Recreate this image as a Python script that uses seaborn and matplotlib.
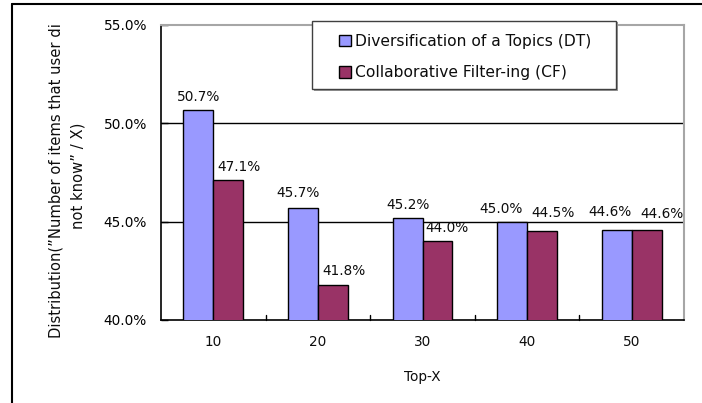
import matplotlib
matplotlib.use("Agg")
import matplotlib.pyplot as plt
from matplotlib.lines import Line2D
from matplotlib.patches import Rectangle
from matplotlib.transforms import Bbox, TransformedBbox
import seaborn as sns
import pandas as pd

# Top-X cut-offs and the share of unknown items for each method (percent)
top_x = ["10", "20", "30", "40", "50"]
methods = ["Diversification of a Topics (DT)", "Collaborative Filter-ing (CF)"]
dt_values = [50.7, 45.7, 45.2, 45.0, 44.6]
cf_values = [47.1, 41.8, 44.0, 44.5, 44.6]
y_ticks = [40.0, 45.0, 50.0, 55.0]

# Nudges (pixels) for the value labels so neighbours don't collide
dt_label_shift = [(0, 12.6), (-5, 15), (0, 13), (-11, 13), (-7, 17.5)]
cf_label_shift = [(11, 13.3), (11, 14), (10, 13), (11, 18), (15, 15.5)]

df = pd.DataFrame({
    "Top-X": top_x * 2,
    "value": dt_values + cf_values,
    "method": [methods[0]] * len(top_x) + [methods[1]] * len(top_x),
})

sns.set_theme(style="white")
plt.rcParams["font.family"] = ["DejaVu Sans"]

W, H = 702, 403
TXT = "#0d0d0d"
fig = plt.figure(figsize=(W / 100, H / 100), dpi=100)
ax = fig.add_axes([161 / W, 1 - 320 / H, (684 - 161) / W, (320 - 25) / H])


def px(x, y):
    """Figure-fraction coordinates from pixel position (origin top-left)."""
    return x / W, 1 - y / H


sns.barplot(
    data=df, x="Top-X", y="value", hue="method", order=top_x, hue_order=methods,
    palette=["#9999FF", "#993366"], edgecolor="black", linewidth=1.0,
    width=0.571, gap=0, saturation=1, ax=ax, zorder=3,
)
handles, labels = ax.get_legend_handles_labels()
if ax.get_legend() is not None:
    ax.get_legend().remove()

ax.set_ylim(40, 55)
ax.set_yticks(y_ticks)
ax.set_yticklabels([f"{t:.1f}%" for t in y_ticks], fontsize=9.8, color=TXT)
ax.set_xticks(range(len(top_x)))
ax.set_xticklabels(top_x, fontsize=9.8, color=TXT)
ax.set_xlim(-0.5, len(top_x) - 0.5)

# horizontal gridlines at the inner major ticks
for t in y_ticks[1:-1]:
    ax.axhline(t, color="black", lw=1.0, zorder=1)

ax.tick_params(axis="y", direction="in", length=5, width=1, pad=10, colors="black", left=True)
ax.tick_params(axis="x", length=0, pad=10.5)
# separator ticks between categories on the x axis
for b in [0.5, 1.5, 2.5, 3.5]:
    ax.plot([b, b], [40, 40.25], color="black", lw=1, zorder=4, clip_on=False)

for side in ["left", "bottom"]:
    ax.spines[side].set_color("black")
    ax.spines[side].set_linewidth(1.2)
for side in ["top", "right"]:
    ax.spines[side].set_color("#A6A6A6")
    ax.spines[side].set_linewidth(1.5)

ax.set_xlabel("Top-X", fontsize=9.8, labelpad=15.5, color=TXT)
ax.set_ylabel("")

# value labels above each bar
bars_dt, bars_cf = ax.containers[0], ax.containers[1]
for bars, vals, shifts in [(bars_dt, dt_values, dt_label_shift),
                           (bars_cf, cf_values, cf_label_shift)]:
    for rect, v, (dx, dy) in zip(bars, vals, shifts):
        ax.annotate(f"{v:.1f}%", xy=(rect.get_x() + rect.get_width() / 2, v),
                    xytext=(dx, dy), textcoords="offset pixels",
                    ha="center", va="center", fontsize=9.8, color=TXT,
                    zorder=5)

# legend: frame drawn separately, entries placed inside it
x0, y0, x1, y1 = 312, 21, 616, 89
fig.add_artist(Rectangle(px(x0 + 1.5, y1 + 1.5), (x1 - x0) / W, (y1 - y0) / H,
                         transform=fig.transFigure, facecolor="#9a9a9a",
                         edgecolor="none", zorder=5))
fig.add_artist(Rectangle(px(x0, y1), (x1 - x0) / W, (y1 - y0) / H,
                         transform=fig.transFigure, facecolor="white",
                         edgecolor="#404040", lw=1.0, zorder=6))
leg = fig.legend(handles, labels, loc="upper left",
                 bbox_to_anchor=px(339, 34), bbox_transform=fig.transFigure,
                 fontsize=11.2, frameon=False, borderaxespad=0, borderpad=0,
                 handlelength=0.75, handleheight=0.75, handletextpad=0.3,
                 labelspacing=1.05)
leg.set_zorder(7)
for t in leg.get_texts():
    t.set_color(TXT)

# two-line y axis title, cut at the top of the chart area
ylab = fig.text(*px(67, 176),
                "Distribution(”Number of items that user did\nnot know” / X)",
                rotation=90, ha="center", va="center", multialignment="center",
                fontsize=10.6, linespacing=1.55, color=TXT)
ylab.set_clip_box(TransformedBbox(Bbox([[0, 0], [1, 1 - 25 / H]]), fig.transFigure))
ylab.set_clip_on(True)

# outer chart frame (top and left edges)
fig.add_artist(Line2D([12 / W, 1], [1 - 3.5 / H, 1 - 3.5 / H],
                      transform=fig.transFigure, color="black", lw=1.5))
fig.add_artist(Line2D([12 / W, 12 / W], [0, 1 - 3.5 / H],
                      transform=fig.transFigure, color="black", lw=1.5))

fig.savefig("out.png", dpi=100)
